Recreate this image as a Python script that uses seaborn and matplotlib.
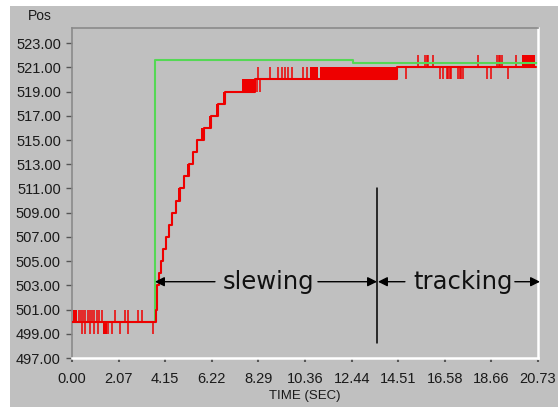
import matplotlib
matplotlib.use("Agg")
import matplotlib.pyplot as plt
import seaborn as sns
import pandas as pd
from matplotlib.patches import Rectangle

# ====== Commanded position (green) ======
cmd_t = [0.0, 3.70, 12.52, 20.70]
cmd_v = [500.0, 521.6, 521.4, 521.4]

# ====== Measured position (red), step changes ======
meas_t = [0.0, 3.72, 3.76, 3.80, 3.86, 3.95, 4.05, 4.20, 4.33, 4.46, 4.62, 4.80,
          5.00, 5.20, 5.40, 5.58, 5.85, 6.20, 6.50, 6.80, 8.15, 14.46, 20.64]
meas_v = [500, 501, 502, 503, 504, 505, 506, 507, 508, 509, 510, 511,
          512, 513, 514, 515, 516, 517, 518, 519, 520, 521, 521]

# dense toggling regions (start, end, low, high)
band_t0 = [0.04, 1.38, 4.16, 4.29, 4.41, 4.56, 4.73, 4.92, 5.12, 5.32, 5.50, 5.76, 6.10, 6.40, 6.70, 7.55, 10.60, 11.03, 20.02]
band_t1 = [0.22, 1.56, 4.22, 4.35, 4.48, 4.64, 4.82, 5.02, 5.22, 5.42, 5.60, 5.88, 6.22, 6.52, 6.82, 8.15, 10.95, 14.46, 20.60]
band_lo = [500, 499, 506, 507, 508, 509, 510, 511, 512, 513, 514, 515, 516, 517, 518, 519, 520, 520, 521]
band_hi = [501, 500, 507, 508, 509, 510, 511, 512, 513, 514, 515, 516, 517, 518, 519, 520, 521, 521, 522]

# single-sample glitches (time, from, to)
spike_t = [0.30, 0.40, 0.50, 0.60, 0.70, 0.80, 0.90, 1.00, 1.10, 1.20, 1.32, 1.90, 2.35, 2.50, 2.95, 3.12,
           0.44, 0.58, 0.80, 0.98, 1.16, 1.62, 1.78, 2.14, 2.49, 3.60,
           8.22, 8.35, 8.27, 8.81, 9.16, 9.34, 9.48, 9.61, 9.79, 10.28, 10.45,
           15.39, 15.70, 15.77, 15.84, 16.06, 18.06, 18.91, 18.98, 19.06, 19.13, 19.75,
           14.86, 16.37, 16.50, 16.68, 16.74, 16.80, 16.86, 17.17, 17.24, 17.31, 17.39, 18.46, 18.64, 19.40]
spike_from = [500] * 16 + [500] * 10 + [520] * 11 + [521] * 11 + [521] * 14
spike_to = [501] * 16 + [499] * 10 + [519, 519] + [521] * 9 + [522] * 11 + [520] * 14

# ====== Annotations ======
divider_t = 13.57
divider_lo, divider_hi = 498.2, 511.0
arrow_v = 503.3
phase_labels = ["slewing", "tracking"]
phase_text_t = [8.74, 17.39]
arrow_tail_t = [6.36, 10.94, 14.81, 19.70]
arrow_head_t = [3.69, 13.57, 13.61, 20.82]

x_ticks = [0.00, 2.07, 4.15, 6.22, 8.29, 10.36, 12.44, 14.51, 16.58, 18.66, 20.73]
y_ticks = list(range(497, 524, 2))

sns.set_style("white")
plt.rcParams['font.family'] = ['Liberation Sans', 'DejaVu Sans']

bg = "#c0c0c0"
fig = plt.figure(figsize=(5.58, 4.07), dpi=100, facecolor="white")
fig.patches.append(Rectangle((10 / 558, 0), 1, (407 - 6) / 407, transform=fig.transFigure,
                             facecolor=bg, edgecolor="none", zorder=-10))
ax = fig.add_axes([72 / 558, (407 - 358) / 407, (538 - 72) / 558, (358 - 28) / 407])
ax.set_facecolor(bg)

red = "#ee0000"
# dense bands
for t0, t1, lo, hi in zip(band_t0, band_t1, band_lo, band_hi):
    ax.fill_between([t0, t1], [lo, lo], [hi, hi], color=red, linewidth=0, zorder=2)
ax.vlines(spike_t, spike_from, spike_to, color=red, linewidth=1.1, zorder=2)

meas = pd.DataFrame({"t": meas_t, "v": meas_v})
sns.lineplot(data=meas, x="t", y="v", ax=ax, color=red, linewidth=1.5,
             drawstyle="steps-post", estimator=None, sort=False, zorder=3)

cmd = pd.DataFrame({"t": cmd_t, "v": cmd_v})
sns.lineplot(data=cmd, x="t", y="v", ax=ax, color="#55d855", linewidth=1.5,
             drawstyle="steps-post", estimator=None, sort=False, zorder=2.5)

# phase divider and arrows
ax.plot([divider_t, divider_t], [divider_lo, divider_hi], color="black", linewidth=1.1, zorder=4)
for tail, head in zip(arrow_tail_t, arrow_head_t):
    ax.annotate("", xy=(head, arrow_v), xytext=(tail, arrow_v), annotation_clip=False,
                arrowprops=dict(arrowstyle="-|>", color="black", lw=1, mutation_scale=14,
                                shrinkA=0, shrinkB=0), zorder=5)
for lbl, t in zip(phase_labels, phase_text_t):
    ax.text(t, arrow_v, lbl, ha="center", va="center", fontsize=17.5,
            family="DejaVu Sans", color="#111111", zorder=5)

ax.set_xlim(0, 20.73)
ax.set_ylim(497, 524.25)
ax.set_xticks(x_ticks)
ax.set_xticklabels([f"{v:.2f}" for v in x_ticks])
ax.set_yticks(y_ticks)
ax.set_yticklabels([f"{v:.2f}" for v in y_ticks])
ax.tick_params(axis="both", labelsize=10.5, colors="#555555", labelcolor="#1a1a1a")
ax.tick_params(axis="x", direction="out", length=3, width=1.5, pad=7, bottom=True)
ax.tick_params(axis="y", direction="out", length=4, width=1, pad=4, left=True)
ax.set_xlabel("TIME (SEC)", fontsize=9.5, color="#1a1a1a", labelpad=3)
ax.set_ylabel("")

for side in ["left", "top"]:
    ax.spines[side].set_color("#8a8a8a")
    ax.spines[side].set_linewidth(1.2)
for side in ["right", "bottom"]:
    ax.spines[side].set_color("white")
    ax.spines[side].set_linewidth(1.8)

fig.text(40 / 558, 1 - 16 / 407, "Pos", ha="center", va="center", fontsize=10, color="#1a1a1a")

fig.savefig("out.png", dpi=100, facecolor=fig.get_facecolor())
